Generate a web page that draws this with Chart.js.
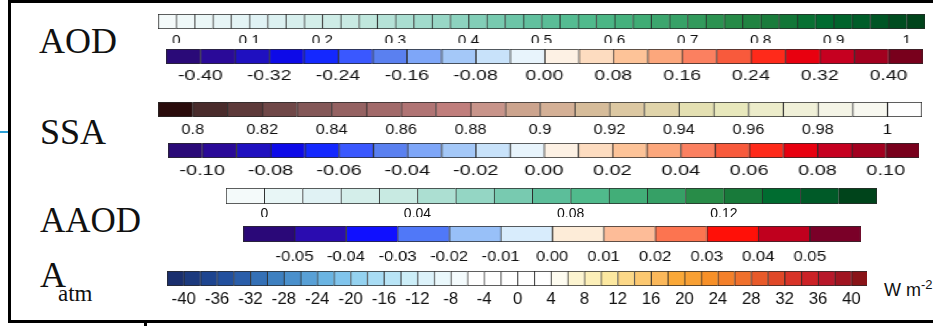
<!DOCTYPE html>
<html><head><meta charset="utf-8">
<script src="https://cdn.jsdelivr.net/npm/chart.js@4/dist/chart.umd.min.js"></script>
<style>
html,body{margin:0;padding:0;background:#fff;width:933px;height:326px;overflow:hidden;}
body{position:relative;}
.lab{position:absolute;font-family:"Liberation Serif","Times New Roman",serif;color:#111;white-space:nowrap;}
.sans{position:absolute;font-family:"Liberation Sans",Arial,sans-serif;color:#111;white-space:nowrap;}
.bar{position:absolute;transform-origin:0 0;}
.line{position:absolute;background:#000;z-index:50;}
</style></head><body>
<div class="lab" style="left:39px;top:23px;font-size:36px;line-height:36px;">AOD</div>
<div class="lab" style="left:40px;top:114px;font-size:36px;line-height:36px;">SSA</div>
<div class="lab" style="left:40px;top:203px;font-size:35px;line-height:35px;">AAOD</div>
<div class="lab" style="left:40px;top:257px;font-size:36px;line-height:36px;">A</div>
<div class="lab" style="left:58px;top:282px;font-size:23px;line-height:23px;">atm</div>
<div class="sans" style="left:884px;top:281px;font-size:18px;line-height:18px;">W m</div>
<div class="sans" style="left:921px;top:278px;font-size:13px;line-height:13px;">-2</div>
<div class="line" style="left:8px;top:0;width:925px;height:3px;"></div>
<div class="line" style="left:8px;top:0;width:3px;height:323px;"></div>
<div class="line" style="left:8px;top:320px;width:925px;height:3px;"></div>
<div class="line" style="left:144px;top:320px;width:3px;height:6px;"></div>
<div class="line" style="left:0;top:131px;width:8px;height:2px;background:#2a9fd6;"></div>
<script>
// ---- data: cell boundaries and tick labels for each colour bar ----
const aodEdges = [-0.025,0,0.025,0.05,0.075,0.1,0.125,0.15,0.175,0.2,0.225,0.25,0.275,0.3,0.325,0.35,0.375,0.4,0.425,0.45,0.475,0.5,0.525,0.55,0.575,0.6,0.625,0.65,0.675,0.7,0.725,0.75,0.775,0.8,0.825,0.85,0.875,0.9,0.925,0.95,0.975,1,1.025];
const aodTicks = [0,0.1,0.2,0.3,0.4,0.5,0.6,0.7,0.8,0.9,1];
const aodLabels = ['0','0.1','0.2','0.3','0.4','0.5','0.6','0.7','0.8','0.9','1'];

const aodDiffEdges = [-0.44,-0.40,-0.36,-0.32,-0.28,-0.24,-0.20,-0.16,-0.12,-0.08,-0.04,0,0.04,0.08,0.12,0.16,0.20,0.24,0.28,0.32,0.36,0.40,0.44];
const aodDiffTicks = [-0.40,-0.32,-0.24,-0.16,-0.08,0,0.08,0.16,0.24,0.32,0.40];
const aodDiffLabels = ['-0.40','-0.32','-0.24','-0.16','-0.08','0.00','0.08','0.16','0.24','0.32','0.40'];

const ssaEdges = [0.79,0.80,0.81,0.82,0.83,0.84,0.85,0.86,0.87,0.88,0.89,0.90,0.91,0.92,0.93,0.94,0.95,0.96,0.97,0.98,0.99,1.00,1.01];
const ssaTicks = [0.80,0.82,0.84,0.86,0.88,0.90,0.92,0.94,0.96,0.98,1.00];
const ssaLabels = ['0.8','0.82','0.84','0.86','0.88','0.9','0.92','0.94','0.96','0.98','1'];

const ssaDiffEdges = [-0.11,-0.10,-0.09,-0.08,-0.07,-0.06,-0.05,-0.04,-0.03,-0.02,-0.01,0,0.01,0.02,0.03,0.04,0.05,0.06,0.07,0.08,0.09,0.10,0.11];
const ssaDiffTicks = [-0.10,-0.08,-0.06,-0.04,-0.02,0,0.02,0.04,0.06,0.08,0.10];
const ssaDiffLabels = ['-0.10','-0.08','-0.06','-0.04','-0.02','0.00','0.02','0.04','0.06','0.08','0.10'];

const aaodEdges = [-0.01,0,0.01,0.02,0.03,0.04,0.05,0.06,0.07,0.08,0.09,0.10,0.11,0.12,0.13,0.14,0.15,0.16];
const aaodTicks = [0,0.04,0.08,0.12];
const aaodLabels = ['0','0.04','0.08','0.12'];

const aaodDiffEdges = [-0.06,-0.05,-0.04,-0.03,-0.02,-0.01,0,0.01,0.02,0.03,0.04,0.05,0.06];
const aaodDiffTicks = [-0.05,-0.04,-0.03,-0.02,-0.01,0,0.01,0.02,0.03,0.04,0.05];
const aaodDiffLabels = ['-0.05','-0.04','-0.03','-0.02','-0.01','0.00','0.01','0.02','0.03','0.04','0.05'];

const atmEdges = [-42,-40,-38,-36,-34,-32,-30,-28,-26,-24,-22,-20,-18,-16,-14,-12,-10,-8,-6,-4,-2,0,2,4,6,8,10,12,14,16,18,20,22,24,26,28,30,32,34,36,38,40,42];
const atmTicks = [-40,-36,-32,-28,-24,-20,-16,-12,-8,-4,0,4,8,12,16,20,24,28,32,36,40];
const atmLabels = ['-40','-36','-32','-28','-24','-20','-16','-12','-8','-4','0','4','8','12','16','20','24','28','32','36','40'];

// ---- styles: colour maps ----
const greenRamp = ['#f4fafa','#e8f6f6','#e0f2f4','#d4eeea','#c8eae2','#acdfd2','#94d6c4','#78cab0','#5cbe9a','#50ba8c','#42ae78','#36a066','#288c48','#187a3a','#006c30','#005a28','#00441b'];
const diffColors22 = ['#2a0a78','#2a0a98','#1f10c0','#0d0ae8','#1428ff','#3a58ff','#5a80f0','#7ea6f8','#a4c8f8','#c8e2fa','#e8f4fc',
                      '#fdf1e4','#fddcc0','#fdc398','#fca77c','#fb8060','#f85a3c','#ff2a1a','#e8000f','#c60020','#a2001f','#78001c'];
const diffColors12 = ['#2a0878','#2a0cb0','#1010ff','#5078f8','#98c0f8','#d8ecfc','#fdecd8','#fdbc98','#fc7450','#ff1008','#c0001e','#7a0028'];
const ssaColors = ['#2a0c0c','#4a2c2c','#5e3a3a','#704848','#845858','#956262','#a26a6a','#b07474','#c07e7c','#c8948a','#cca48e','#d4b096','#d6bc9a','#dcc8a2','#e0d4aa','#e4e0b2','#e8e8bc','#ececca','#f0f0d8','#f4f4e6','#f8f8f0','#ffffff'];
const atmColors = ['#1a2f6e','#1c3a7e','#1e4590','#22509e','#2a5eaa','#3470b6','#3e80c0','#4a90cc','#58a0d6','#6ab4e2','#80c4ec','#94d2f0','#a8dcf4','#b8e4f6','#cceef8','#dcf2fa','#eaf8fc','#f4fbfd',
                   '#ffffff','#ffffff','#ffffff','#ffffff','#ffffff',
                   '#fefcf0','#fcf4d0','#fcefb8','#fce8a0','#fcd888','#fcc870','#fbb85a','#faa838','#f8a034','#f79028','#f4802a','#f0702c','#e85a2a','#e04828','#d83428','#cc2226','#b8182a','#a01420','#8a1418'];

function hex2rgb(h){return [parseInt(h.slice(1,3),16),parseInt(h.slice(3,5),16),parseInt(h.slice(5,7),16)];}
function resample(ramp,n){
  const out=[];
  for(let i=0;i<n;i++){
    const t=i*(ramp.length-1)/(n-1), k=Math.min(Math.floor(t),ramp.length-2), f=t-k;
    const a=hex2rgb(ramp[k]), b=hex2rgb(ramp[k+1]);
    out.push('rgb('+a.map((v,j)=>Math.round(v+(b[j]-v)*f)).join(',')+')');
  }
  return out;
}

function makeBar(cfg){
  const div=document.createElement('div');
  div.className='bar';
  div.style.left=cfg.L+'px'; div.style.top=cfg.divTop+'px';
  div.style.width=((cfg.R-cfg.L)/cfg.s)+'px'; div.style.height=cfg.H+'px';
  div.style.transform='scaleX('+cfg.s+')';
  if(cfg.bg) div.style.background='#fff';
  const cv=document.createElement('canvas');
  div.appendChild(cv); document.body.appendChild(div);
  const padTop=cfg.T-cfg.divTop;
  const axisH=cfg.H-padTop-cfg.barH;
  const cells=[];
  for(let i=0;i<cfg.edges.length-1;i++) cells.push({x:[cfg.edges[i],cfg.edges[i+1]],y:'c'});
  const n=cells.length;
  new Chart(cv,{
    type:'bar',
    data:{labels:['c'],datasets:[{data:cells,backgroundColor:cfg.colors,borderColor:'#2a2a2a',
      borderWidth:(ctx)=>({top:1,bottom:1,left:1,right:ctx.dataIndex===n-1?1:0}),
      borderSkipped:false,barPercentage:1,categoryPercentage:1,grouped:false}]},
    options:{
      indexAxis:'y',responsive:true,maintainAspectRatio:false,animation:false,events:[],
      layout:{padding:{top:padTop,left:0,right:0,bottom:0},autoPadding:false},
      plugins:{legend:{display:false},tooltip:{enabled:false}},
      scales:{
        y:{type:'category',display:false},
        x:{type:'linear',min:cfg.edges[0],max:cfg.edges[n],position:'bottom',
          grid:{display:false,drawTicks:false},border:{display:false},
          afterBuildTicks:(sc)=>{sc.ticks=cfg.ticks.map(v=>({value:v}));},
          afterFit:(sc)=>{sc.height=axisH;},
          ticks:{autoSkip:false,maxRotation:0,minRotation:0,padding:cfg.pad,color:'#111',
            font:{family:'"Liberation Sans", Arial, sans-serif',size:cfg.font},
            callback:(v,i)=>cfg.labels[i]}
        }
      }
    }
  });
}

makeBar({L:158,R:925,T:14,barH:15,divTop:8,H:40,s:1.1,font:14,pad:3.6,edges:aodEdges,ticks:aodTicks,labels:aodLabels,colors:resample(greenRamp,42)});
makeBar({L:166,R:923,T:49,barH:15,divTop:43,H:45,s:1.3,font:15,pad:2.5,bg:true,edges:aodDiffEdges,ticks:aodDiffTicks,labels:aodDiffLabels,colors:diffColors22});
makeBar({L:158,R:922,T:102,barH:15,divTop:96,H:44,s:1.17,font:14,pad:4.5,edges:ssaEdges,ticks:ssaTicks,labels:ssaLabels,colors:ssaColors});
makeBar({L:168,R:920,T:143,barH:15,divTop:140,H:42,s:1.33,font:15,pad:3.5,edges:ssaDiffEdges,ticks:ssaDiffTicks,labels:ssaDiffLabels,colors:diffColors22});
makeBar({L:226,R:877,T:188,barH:16,divTop:184,H:40,s:1.0,font:14,pad:1.6,edges:aaodEdges,ticks:aaodTicks,labels:aaodLabels,colors:resample(greenRamp,17)});
makeBar({L:243,R:860,T:226,barH:16,divTop:217,H:50,s:1.19,font:14,pad:6.6,bg:true,edges:aaodDiffEdges,ticks:aaodDiffTicks,labels:aaodDiffLabels,colors:diffColors12});
makeBar({L:167,R:867,T:271,barH:15,divTop:267,H:46,s:1.05,font:16,pad:4.2,edges:atmEdges,ticks:atmTicks,labels:atmLabels,colors:atmColors});
</script>
</body></html>
